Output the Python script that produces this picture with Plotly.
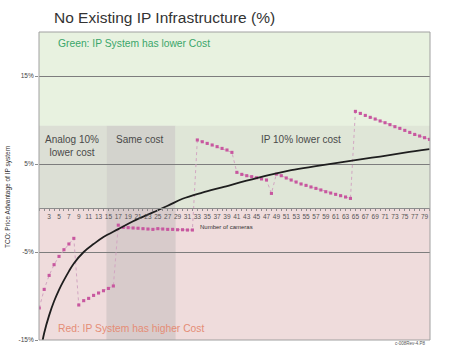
import plotly.graph_objects as go

# ---------------- DATA ----------------
cameras = list(range(1, 81))
ip_advantage = [
    -11.36, -9.25, -7.66, -6.44, -5.5, -4.74, -4.09, -3.45,
    -11.02, -10.53, -10.27, -9.93, -9.66, -9.4, -9.14, -8.86,
    -1.95, -2.2, -2.23, -2.27, -2.3, -2.35, -2.39, -2.43, -2.35, -2.39, -2.43, -2.43, -2.47, -2.47, -2.5, -2.5,
    7.73, 7.53, 7.34, 7.16, 6.97, 6.77, 6.59, 6.32,
    4.05, 3.82, 3.67, 3.56, 3.44, 3.3, 3.18,
    1.66,
    3.85,
    3.67, 3.41, 3.18, 2.95, 2.73, 2.57, 2.39, 2.23, 2.05, 1.85, 1.7, 1.55, 1.4, 1.25, 1.09,
    10.98, 10.75, 10.52, 10.3, 10.11, 9.89, 9.69, 9.47, 9.24, 9.05, 8.82, 8.59, 8.36, 8.18, 7.99, 7.8,
]
trend_x = [1.7, 2, 3, 4, 5, 6, 7, 8, 10, 12, 14, 17, 20, 24, 27, 30, 34, 38, 45, 52, 57, 61, 65, 70, 75, 80]
trend_y = [-15.0, -14.2, -12.2, -10.6, -9.3, -8.2, -7.2, -6.3, -5.0, -4.1, -3.3, -2.4, -1.5, -0.5, 0.25,
           1.05, 1.75, 2.35, 3.4, 4.3, 4.75, 5.1, 5.45, 5.85, 6.3, 6.7]
x_tick_vals = list(range(3, 80, 2))
x_tick_text = [str(v) for v in x_tick_vals]
y_tick_vals = [-15, -5, 5, 15]
y_tick_text = ["-15%", "-5%", "5%", "15%"]

# zones
y_min, y_max = -15, 20
band_top = 9.35
analog_end = 14.6
same_end = 28.6
x_lo, x_hi = 0.95, 80.1

FONT = "Liberation Sans, Arial, sans-serif"

fig = go.Figure()

fig.add_trace(go.Scatter(
    x=cameras, y=ip_advantage, mode="lines+markers",
    line=dict(color="#d2a6c2", width=1, dash="dot"),
    marker=dict(symbol="square", size=3.1, color="#c8579f"),
    hoverinfo="skip", showlegend=False,
))
fig.add_trace(go.Scatter(
    x=trend_x, y=trend_y, mode="lines",
    line=dict(color="#1e1e1e", width=1.8, shape="spline"),
    hoverinfo="skip", showlegend=False,
))

shapes = [
    dict(type="rect", xref="x", yref="y", x0=x_lo, x1=x_hi, y0=0, y1=y_max,
         fillcolor="#e8f2e0", line_width=0, layer="below"),
    dict(type="rect", xref="x", yref="y", x0=x_lo, x1=x_hi, y0=y_min, y1=0,
         fillcolor="#efdcdc", line_width=0, layer="below"),
    dict(type="rect", xref="x", yref="y", x0=x_lo, x1=analog_end, y0=0, y1=band_top,
         fillcolor="#dcdfd5", line_width=0, layer="below"),
    dict(type="rect", xref="x", yref="y", x0=analog_end, x1=same_end, y0=0, y1=band_top,
         fillcolor="#d3d3cd", line_width=0, layer="below"),
    dict(type="rect", xref="x", yref="y", x0=analog_end, x1=same_end, y0=y_min, y1=0,
         fillcolor="#d8cbcb", line_width=0, layer="below"),
    dict(type="rect", xref="x", yref="y", x0=same_end, x1=x_hi, y0=0, y1=band_top,
         fillcolor="#dfe6d7", line_width=0, layer="below"),
    dict(type="rect", xref="paper", yref="paper", x0=0, x1=1, y0=0, y1=1,
         line=dict(color="#a0a0a0", width=1), layer="above"),
]

annotations = [
    dict(text="No Existing IP Infrastructure (%)", xref="paper", yref="paper",
         x=(52 - 39) / 391, y=(340 - 17) / 308, xanchor="left", yanchor="middle",
         showarrow=False, font=dict(family=FONT, size=15.5, color="#333333")),
    dict(text="Green: IP System has lower Cost", xref="x", yref="y", x=4.37, y=18.64,
         xanchor="left", yanchor="middle", showarrow=False,
         font=dict(family=FONT, size=10.3, color="#3aa66a")),
    dict(text="Red: IP System has higher Cost", xref="x", yref="y", x=4.37, y=-13.7,
         xanchor="left", yanchor="middle", showarrow=False,
         font=dict(family=FONT, size=10.3, color="#e58d76")),
    dict(text="Analog 10%<br>lower cost", xref="x", yref="y", x=7.67, y=7.0,
         xanchor="center", yanchor="middle", showarrow=False,
         font=dict(family=FONT, size=10, color="#4a4a4a")),
    dict(text="Same cost", xref="x", yref="y", x=21.3, y=7.76,
         xanchor="center", yanchor="middle", showarrow=False,
         font=dict(family=FONT, size=10, color="#4a4a4a")),
    dict(text="IP 10% lower cost", xref="x", yref="y", x=53.9, y=7.76,
         xanchor="center", yanchor="middle", showarrow=False,
         font=dict(family=FONT, size=10, color="#4a4a4a")),
    dict(text="Number of cameras", xref="x", yref="y", x=33.1, y=-2.15,
         xanchor="left", yanchor="middle", showarrow=False,
         font=dict(family=FONT, size=6, color="#333333")),
    dict(text="TCO: Price Advantage of IP system", xref="paper", yref="paper",
         x=(8 - 39) / 391, y=(340 - 197) / 308, xanchor="center", yanchor="middle",
         textangle=-90, showarrow=False,
         font=dict(family=FONT, size=6.5, color="#333333")),
    dict(text="c-008Rev-4.P8", xref="paper", yref="paper",
         x=1 - (430 - 428) / 391, y=-(344 - 340) / 308, xanchor="right", yanchor="middle",
         showarrow=False, font=dict(family=FONT, size=4.5, color="#555555")),
]

fig.update_layout(
    width=450, height=354,
    margin=dict(l=39, r=20, t=32, b=14),
    paper_bgcolor="white", plot_bgcolor="white",
    showlegend=False,
    shapes=shapes, annotations=annotations,
    xaxis=dict(
        range=[x_lo, x_hi], anchor="free", position=(0 - y_min) / (y_max - y_min),
        showgrid=False, zeroline=False, showline=True, linecolor="#8c8c8c", linewidth=1,
        tickvals=x_tick_vals, ticktext=x_tick_text, ticks="outside", ticklen=2,
        tickcolor="#8c8c8c", tickangle=0,
        minor=dict(dtick=1, tick0=1, ticks="outside", ticklen=2, tickcolor="#8c8c8c"),
        tickfont=dict(family=FONT, size=6.5, color="#555555"),
    ),
    yaxis=dict(
        range=[y_min, y_max], tickvals=y_tick_vals, ticktext=y_tick_text,
        showgrid=True, gridcolor="#7d7d7d", gridwidth=1, zeroline=False,
        showline=False, ticks="outside", ticklen=3, tickcolor="#8c8c8c",
        tickfont=dict(family=FONT, size=6.5, color="#444444"),
    ),
)

fig.write_html("out.html")
